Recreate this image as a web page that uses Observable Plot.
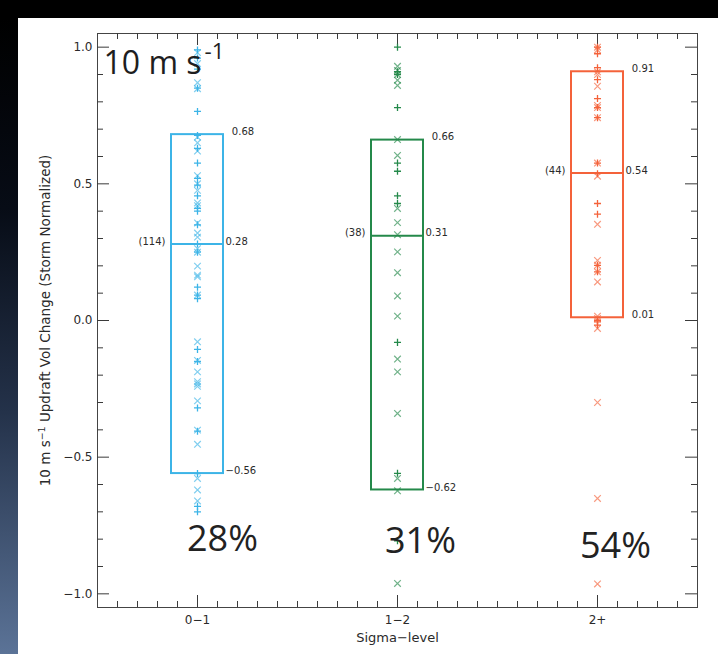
<!DOCTYPE html>
<html>
<head>
<meta charset="utf-8">
<script src="https://cdn.jsdelivr.net/npm/d3@7"></script>
<script src="https://cdn.jsdelivr.net/npm/@observablehq/plot@0.6"></script>
<style>
  html, body { margin: 0; padding: 0; }
  body { background: #000; width: 718px; height: 654px; overflow: hidden; position: relative; }
  #strip { position: absolute; left: 0; top: 18px; width: 18px; height: 636px;
    background: linear-gradient(to bottom, #000 0%, #070c16 30%, #24324a 62%, #5b7397 100%); }
  #panel { position: absolute; left: 18px; top: 18px; width: 700px; height: 636px; background: #fff; }
  #chart { position: absolute; left: 0; top: 0; }
</style>
</head>
<body>
<div id="strip"></div>
<div id="panel"></div>
<div id="chart"></div>
<script>
// ---- data ----
const categories = ["0\u22121", "1\u22122", "2+"];
const counts = [114, 38, 44];
const boxTop = [0.68, 0.66, 0.91];
const boxMedian = [0.28, 0.31, 0.54];
const boxBottom = [-0.56, -0.62, 0.01];
const pctLabels = ["28%", "31%", "54%"];
const colors = ["#3cb4e7", "#24894a", "#f4623a"];
const panelLabel = "10 m s\u207B\u00B9";
const yTitle = "10 m s\u207B\u00B9 Updraft Vol Change (Storm Normalized)";
const xTitle = "Sigma\u2212level";
const yMajorTicks = [-1, -0.5, 0, 0.5, 1];
const yMinorTicks = [-0.9,-0.8,-0.7,-0.6,-0.4,-0.3,-0.2,-0.1,0.1,0.2,0.3,0.4,0.6,0.7,0.8,0.9];
const xMajorTicks = [0, 1, 2];
const xMinorTicks = [-0.4,-0.3,-0.2,-0.1,0.1,0.2,0.3,0.4,0.5,0.6,0.7,0.8,0.9,1.1,1.2,1.3,1.4,1.5,1.6,1.7,1.8,1.9,2.1,2.2,2.3,2.4];

// "+" markers per category
const plus01 = [0.99, 0.96, 0.92, 0.85, 0.765, 0.677, 0.63, 0.576, 0.52, 0.495, 0.456, 0.41, 0.40, 0.35, 0.28, 0.25, 0.122, 0.093, 0.08, -0.106, -0.15, -0.32, -0.405, -0.56, -0.68, -0.70];
const plus12 = [1.0, 0.91, 0.90, 0.779, 0.576, 0.546, 0.456, 0.428, -0.08, -0.559, -0.806];
const plus2p = [1.0, 0.976, 0.925, 0.881, 0.812, 0.779, 0.742, 0.576, 0.537, 0.428, 0.389, 0.202, 0.178, 0.001, -0.005, -0.017];
// "x" markers per category
const times01 = [0.98, 0.94, 0.87, 0.848, 0.671, 0.65, 0.62, 0.53, 0.50, 0.476, 0.43, 0.42, 0.357, 0.32, 0.305, 0.263, 0.25, 0.199, 0.166, 0.16, 0.093, -0.078, -0.146, -0.188, -0.224, -0.232, -0.241, -0.294, -0.401, -0.453, -0.578, -0.62, -0.66];
const times12 = [0.93, 0.915, 0.90, 0.879, 0.86, 0.662, 0.604, 0.41, 0.358, 0.314, 0.251, 0.175, 0.09, 0.016, -0.141, -0.188, -0.34, -0.578, -0.623, -0.962];
const times2p = [1.0, 0.99, 0.91, 0.90, 0.857, 0.787, 0.779, 0.742, 0.576, 0.528, 0.352, 0.22, 0.202, 0.178, 0.141, 0.016, 0.007, -0.029, -0.30, -0.651, -0.964];

// ---- tables ----
const boxes = categories.map((c, i) => ({i, cat: c, top: boxTop[i], med: boxMedian[i], bot: boxBottom[i], n: counts[i], pct: pctLabels[i]}));
const toPts = (arr, i) => arr.map(v => ({i, cat: categories[i], v}));
const plusPts = [...toPts(plus01, 0), ...toPts(plus12, 1), ...toPts(plus2p, 2)];
const timesPts = [...toPts(times01, 0), ...toPts(times12, 1), ...toPts(times2p, 2)];

const xDomain = [-0.5, 2.5], yDomain = [-1.05, 1.05];
const W = 718, H = 654, mL = 97, mR = 21, mT = 33, mB = 47;
const xpx = (xDomain[1] - xDomain[0]) / (W - mL - mR);
const ypx = (yDomain[1] - yDomain[0]) / (H - mT - mB);
const halfW = 0.13;
const f2 = d3.format(".2f");
const sideLabel = v => (v < 0 ? "" : "\u2007") + f2(v);
const ink = "#2a2a2a";
const tickInk = "#3a3a3a";

const pctOffsets = [{dx: 25, dy: -57}, {dx: 23, dy: -55}, {dx: 18, dy: -50}];

const plot = Plot.plot({
  width: W, height: H,
  marginLeft: mL, marginRight: mR, marginTop: mT, marginBottom: mB,
  style: {background: "transparent", fontFamily: "DejaVu Sans", fontSize: "12px", color: ink},
  x: {domain: xDomain, ticks: xMajorTicks, tickFormat: i => categories[i], tickSize: 0, tickPadding: 8, label: null},
  y: {domain: yDomain, ticks: yMajorTicks, tickFormat: ".1f", tickSize: 0, tickPadding: 5, label: null},
  color: {domain: categories, range: colors},
  marks: [
    Plot.frame({stroke: "#444"}),
    // left / right ticks
    Plot.ruleY(yMinorTicks, {y: d => d, x1: xDomain[0], x2: xDomain[0] + 6 * xpx, stroke: tickInk}),
    Plot.ruleY(yMajorTicks, {y: d => d, x1: xDomain[0], x2: xDomain[0] + 12 * xpx, stroke: tickInk}),
    Plot.ruleY(yMinorTicks, {y: d => d, x1: xDomain[1], x2: xDomain[1] - 6 * xpx, stroke: tickInk}),
    Plot.ruleY(yMajorTicks, {y: d => d, x1: xDomain[1], x2: xDomain[1] - 12 * xpx, stroke: tickInk}),
    // top / bottom ticks
    Plot.ruleX(xMinorTicks, {x: d => d, y1: yDomain[0], y2: yDomain[0] + 6 * ypx, stroke: tickInk}),
    Plot.ruleX(xMajorTicks, {x: d => d, y1: yDomain[0], y2: yDomain[0] + 12 * ypx, stroke: tickInk}),
    Plot.ruleX(xMinorTicks, {x: d => d, y1: yDomain[1], y2: yDomain[1] - 6 * ypx, stroke: tickInk}),
    Plot.ruleX(xMajorTicks, {x: d => d, y1: yDomain[1], y2: yDomain[1] - 12 * ypx, stroke: tickInk}),
    // markers
    Plot.dot(timesPts, {x: "i", y: "v", symbol: "times", r: 3.1, stroke: "cat", strokeWidth: 1.2, strokeOpacity: 0.65}),
    Plot.dot(plusPts, {x: "i", y: "v", symbol: "plus", r: 2.4, stroke: "cat", strokeWidth: 1.3}),
    // boxes
    Plot.rect(boxes, {x1: d => d.i - halfW, x2: d => d.i + halfW, y1: "bot", y2: "top", stroke: "cat", strokeWidth: 2, fill: "none"}),
    Plot.ruleY(boxes, {y: "med", x1: d => d.i - halfW, x2: d => d.i + halfW, stroke: "cat", strokeWidth: 2}),
    // box labels
    Plot.text(boxes, {x: d => d.i + halfW, y: "top", text: d => sideLabel(d.top), textAnchor: "start", dx: 2, dy: -3, fontSize: 10, fill: ink}),
    Plot.text(boxes, {x: d => d.i + halfW, y: "bot", text: d => sideLabel(d.bot), textAnchor: "start", dx: 2, dy: -2.5, fontSize: 10, fill: ink}),
    Plot.text(boxes, {x: d => d.i + halfW, y: "med", text: d => f2(d.med), textAnchor: "start", dx: 2, dy: -2.5, fontSize: 10, fill: ink}),
    Plot.text(boxes, {x: d => d.i - halfW, y: "med", text: d => `(${d.n})`, textAnchor: "end", dx: -6, dy: -2.5, fontSize: 10, fill: ink}),
    // percentage labels
    ...boxes.map((b, k) => Plot.text([b], {x: "i", frameAnchor: "bottom", text: "pct", textAnchor: "middle", lineAnchor: "bottom",
      dx: pctOffsets[k].dx, dy: pctOffsets[k].dy, fontSize: 36, fontFamily: "Open Sans", fill: "#222"})),
    // panel label
    Plot.text([panelLabel], {text: d => d, frameAnchor: "top-left", textAnchor: "start", lineAnchor: "bottom", dx: 6, dy: 40, fontSize: 32, fontFamily: "Open Sans", fill: "#1e1e1e"}),
    // axis titles
    Plot.text([yTitle], {text: d => d, frameAnchor: "left", rotate: -90, dx: -52, textAnchor: "middle", lineAnchor: "middle", fontSize: 13.5, fill: ink}),
    Plot.text([xTitle], {text: d => d, frameAnchor: "bottom", dy: 30, textAnchor: "middle", lineAnchor: "middle", fontSize: 13, fill: ink})
  ]
});

// superscripts
const ns = "http://www.w3.org/2000/svg";
for (const t of plot.querySelectorAll("text")) {
  const s = t.textContent;
  const k = s.indexOf("\u207B\u00B9");
  if (k < 0) continue;
  const big = s === panelLabel;
  t.textContent = "";
  t.append(s.slice(0, k));
  const sup = document.createElementNS(ns, "tspan");
  sup.setAttribute("baseline-shift", "super");
  sup.setAttribute("font-size", big ? "70%" : "70%");
  if (big) sup.setAttribute("dx", "3");
  sup.textContent = big ? "-1" : "\u22121";
  t.append(sup);
  const rest = s.slice(k + 2);
  if (rest) {
    const r = document.createElementNS(ns, "tspan");
    r.textContent = rest;
    t.append(r);
  }
}
document.getElementById("chart").append(plot);
</script>
</body>
</html>
